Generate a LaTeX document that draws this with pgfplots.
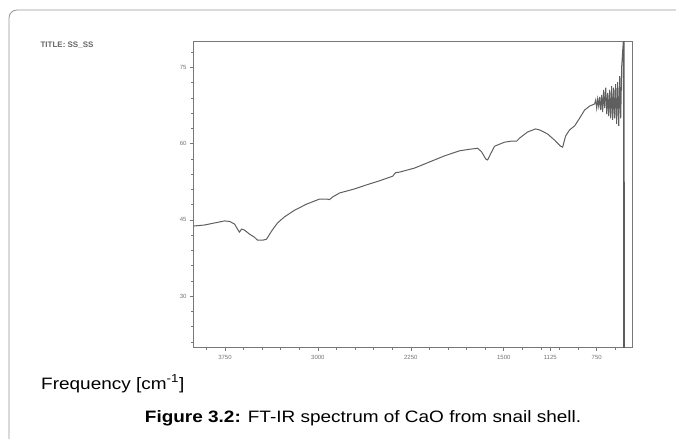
\documentclass[border=0pt]{standalone}
\usepackage{fontspec}
\setmainfont{Liberation Sans}
\usepackage{graphicx}
\usepackage{pgfplots}
\pgfplotsset{compat=1.18}
\definecolor{framecol}{RGB}{150,150,150}
\definecolor{specol}{RGB}{95,95,95}
\definecolor{axcol}{RGB}{120,120,120}

\begin{document}
\begin{tikzpicture}[x=1pt,y=1pt]
% page = 676 x 439 px, 1 px = 1 pt
\path[use as bounding box] (0,0) rectangle (676,439);
\draw[framecol,line width=0.8pt,rounded corners=8pt] (9,0) -- (9,429) -- (690,429);

\node[anchor=west,text=gray!80!black,font=\fontsize{8}{9}\selectfont\bfseries] at (37,394) {TITLE: SS\_SS};

\begin{axis}[
  at={(194pt,92pt)}, anchor=south west,
  scale only axis, width=438pt, height=305pt,
  xmin=465, xmax=4000, x dir=reverse,
  ymin=20, ymax=80,
  xtick={750,1125,1500,2250,3000,3750},
  minor xtick={600,750,...,3900},
  ytick={30,45,60,75},
  minor ytick={21,24,...,78},
  tick pos=left,
  tick align=outside,
  major tick length=4pt, minor tick length=2.5pt,
  every tick/.style={axcol,line width=0.6pt},
  axis line style={axcol,line width=1pt},
  tick label style={font=\fontsize{6}{7}\selectfont,text=gray!90!black},
  xticklabel style={yshift=-1pt},
  /pgf/number format/assume math mode=true,
  /pgf/number format/1000 sep={},
  clip=true,
]
\addplot[specol,line width=1pt] coordinates {
(4000,43.8)(3915,44.0)(3834,44.4)(3754,44.8)(3713,44.7)(3673,44.2)
(3649,43.2)(3633,42.6)(3616,43.2)(3592,43.0)(3552,42.2)(3512,41.6)
(3487,41.0)(3447,41.0)(3415,41.2)(3374,42.8)(3326,44.4)(3270,45.6)
(3189,46.9)(3092,48.1)(2987,49.1)(2930,49.1)(2906,49.0)(2882,49.5)
(2825,50.3)(2704,51.1)(2607,51.9)(2502,52.7)(2397,53.6)(2373,54.3)
(2341,54.4)(2220,55.2)(2099,56.4)(1978,57.6)(1856,58.6)(1776,58.9)
(1711,59.1)(1679,58.4)(1646,57.0)(1630,56.8)(1606,58.0)(1574,59.5)
(1534,59.9)(1493,60.3)(1437,60.5)(1396,60.5)(1372,61.1)(1308,62.3)
(1243,62.9)(1211,62.7)(1146,61.9)(1090,60.7)(1041,59.5)(1025,59.3)
(1001,61.5)(969,62.7)(928,63.5)(888,65.0)(848,66.6)(807,67.4)(767,67.8)
(758,68.6)(750,67.0)(742,68.8)(734,67.4)(726,69.2)(718,66.6)(710,69.6)
(702,66.2)(694,70.6)(686,67.0)(677,71.0)(669,65.8)(661,70.0)(653,65.4)
(645,70.6)(637,65.0)(629,71.3)(621,64.7)(613,71.0)(605,65.0)(597,71.7)
(589,63.9)(581,72.1)(572,63.5)(564,73.3)(556,65.0)(548,75.3)(540,78.4)
(534,80.5)(532,19.5)(529,80.5)(526,19.5)
};
\node[anchor=east,font=\fontsize{6}{7}\selectfont,text=gray!90!black,xshift=-9pt]
  at (rel axis cs:0,0.785) {\%T};
\end{axis}

\node[anchor=base west,inner sep=0pt,font=\fontsize{16.5}{19}\selectfont] at (41,50)
  {\scalebox{1.15}[1]{Frequency [cm\textsuperscript{-1}]}};
\node[anchor=base,inner sep=0pt,font=\fontsize{16.5}{19}\selectfont] at (363,17)
  {\scalebox{1.15}[1]{\textbf{Figure 3.2:} FT-IR spectrum of CaO from snail shell.}};
\end{tikzpicture}
\end{document}
